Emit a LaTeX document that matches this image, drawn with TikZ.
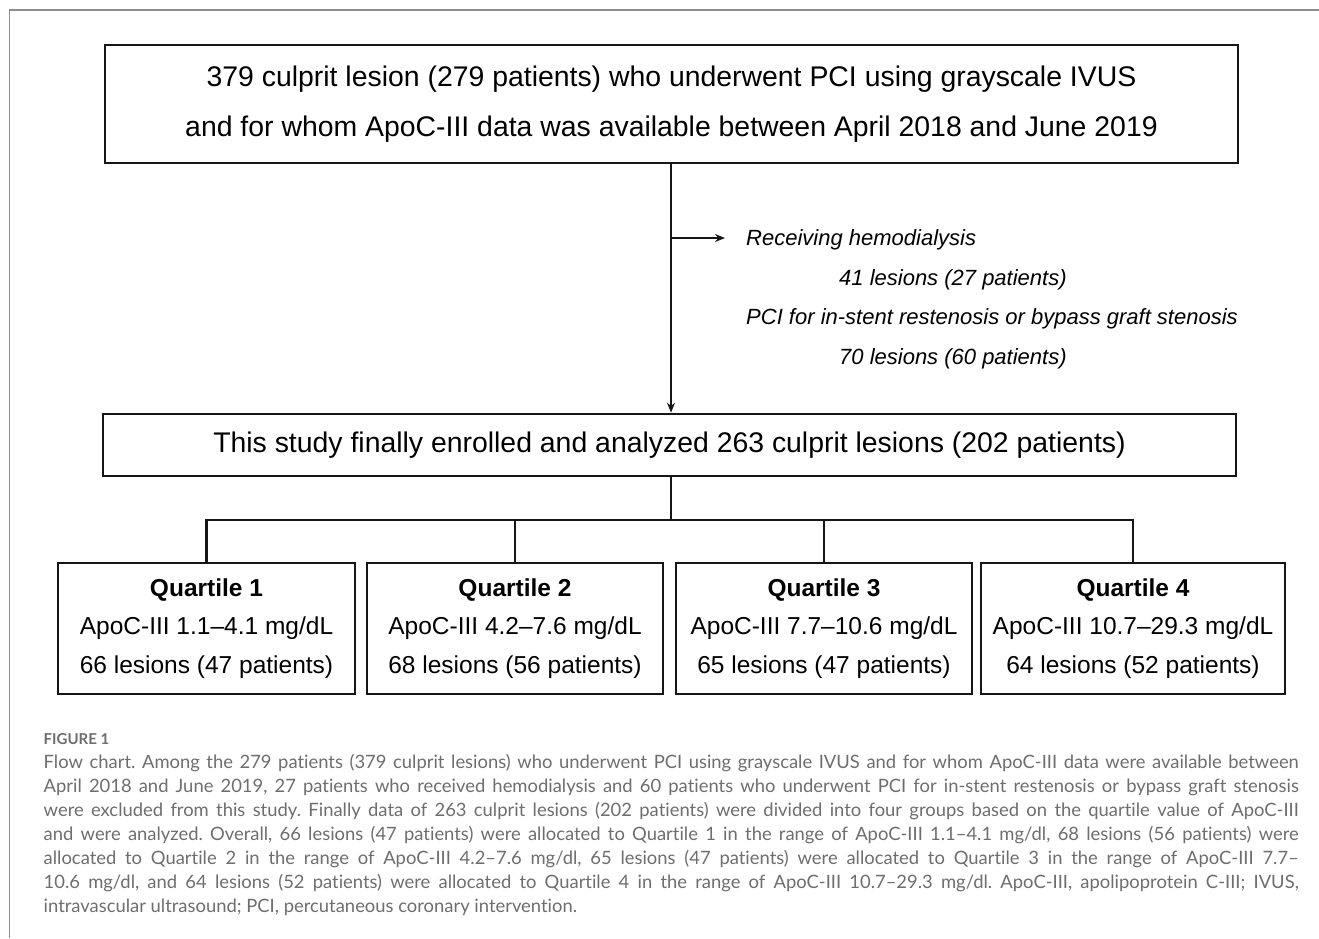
\documentclass[tikz,border=0pt]{standalone}
\usepackage{fontspec}
\setmainfont{Liberation Sans}
\newfontfamily\capfont[Ligatures={TeX,NoCommon}]{Lato}
\usetikzlibrary{arrows.meta}
\definecolor{capgray}{HTML}{6E6E6E}
\definecolor{framegray}{HTML}{8C8C8C}
\definecolor{linec}{HTML}{161616}
\frenchspacing
\begin{document}
\begin{tikzpicture}[x=1pt,y=-1pt,
  box/.style={draw=linec, line width=2.6pt, inner sep=0pt, align=center, text=black},
  bigtext/.style={font=\fontsize{28.4}{50}\selectfont},
  qtext/.style={font=\fontsize{24.5}{38.5}\selectfont},
  conn/.style={draw=linec, line width=2.3pt},
  arr/.style={conn, -{Stealth[length=10pt,width=8pt]}},
  excl/.style={anchor=base west, inner sep=0pt, font=\fontsize{22}{26}\selectfont\itshape},
  capline/.style={anchor=base west, inner sep=0pt, text=capgray, font=\capfont\fontsize{18.4}{24}\selectfont},
]
\useasboundingbox (0,0) rectangle (1319,938);
\fill[white] (0,0) rectangle (1319,938);
% outer frame
\draw[framegray, line width=1.2pt] (9.5,938) -- (9.5,10) -- (1319,10);

% boxes
\node[box, bigtext, minimum width=1133pt, minimum height=118pt] (top) at (671.5,104)
  {379 culprit lesion (279 patients) who underwent PCI using grayscale IVUS\\
   and for whom ApoC-III data was available between April 2018 and June 2019};
\node[box, bigtext, minimum width=1133pt, minimum height=62pt] (mid) at (669.5,445)
  {This study finally enrolled and analyzed 263 culprit lesions (202 patients)};

\node[box, qtext, minimum width=297pt, minimum height=131pt] (q1) at (206.5,628.5)
  {\textbf{Quartile 1}\\ApoC-III 1.1–4.1 mg/dL\\66 lesions (47 patients)};
\node[box, qtext, minimum width=296pt, minimum height=131pt] (q2) at (515,628.5)
  {\textbf{Quartile 2}\\ApoC-III 4.2–7.6 mg/dL\\68 lesions (56 patients)};
\node[box, qtext, minimum width=296pt, minimum height=131pt] (q3) at (824,628.5)
  {\textbf{Quartile 3}\\ApoC-III 7.7–10.6 mg/dL\\65 lesions (47 patients)};
\node[box, qtext, minimum width=304pt, minimum height=131pt] (q4) at (1133,628.5)
  {\textbf{Quartile 4}\\ApoC-III 10.7–29.3 mg/dL\\64 lesions (52 patients)};

% exclusion text
\node[excl] (ex1) at (746,245.5) {Receiving hemodialysis};
\node[excl] (ex2) at (839,285) {41 lesions (27 patients)};
\node[excl] (ex3) at (746,324.5) {PCI for in-stent restenosis or bypass graft stenosis};
\node[excl] (ex4) at (839,364) {70 lesions (60 patients)};

% connectors
\coordinate (spine) at (671,238);
\coordinate (exarr) at (725,238);
\coordinate (hub) at (671,520);
\draw[arr] (top.south -| spine) -- (mid.north -| spine);
\draw[arr] (spine) -- (exarr);
\draw[conn] (mid.south -| hub) -- (hub);
\draw[conn] (q1.north) -- (q1.north |- hub) -- (q4.north |- hub) -- (q4.north);
\draw[conn] (q2.north) -- (q2.north |- hub);
\draw[conn] (q3.north) -- (q3.north |- hub);

% caption
\node[anchor=base west, inner sep=0pt, text=capgray, font=\capfont\bfseries\fontsize{15}{18}\selectfont] (fig) at (43.5,744) {FIGURE 1};
\node[capline] (c1) at (43.5,768.3) {\makebox[1255pt][s]{Flow chart. Among the 279 patients (379 culprit lesions) who underwent PCI using grayscale IVUS and for whom ApoC-III data were available between}};
\node[capline] (c2) at (43.5,792.4) {\makebox[1255pt][s]{April 2018 and June 2019, 27 patients who received hemodialysis and 60 patients who underwent PCI for in-stent restenosis or bypass graft stenosis}};
\node[capline] (c3) at (43.5,816.4) {\makebox[1255pt][s]{were excluded from this study. Finally data of 263 culprit lesions (202 patients) were divided into four groups based on the quartile value of ApoC-III}};
\node[capline] (c4) at (43.5,840.4) {\makebox[1255pt][s]{and were analyzed. Overall, 66 lesions (47 patients) were allocated to Quartile 1 in the range of ApoC-III 1.1–4.1 mg/dl, 68 lesions (56 patients) were}};
\node[capline] (c5) at (43.5,864.4) {\makebox[1255pt][s]{allocated to Quartile 2 in the range of ApoC-III 4.2–7.6 mg/dl, 65 lesions (47 patients) were allocated to Quartile 3 in the range of ApoC-III 7.7–}};
\node[capline] (c6) at (43.5,888.5) {\makebox[1255pt][s]{10.6 mg/dl, and 64 lesions (52 patients) were allocated to Quartile 4 in the range of ApoC-III 10.7–29.3 mg/dl. ApoC-III, apolipoprotein C-III; IVUS,}};
\node[capline] (c7) at (43.5,912.5) {intravascular ultrasound; PCI, percutaneous coronary intervention.};
\end{tikzpicture}
\end{document}
